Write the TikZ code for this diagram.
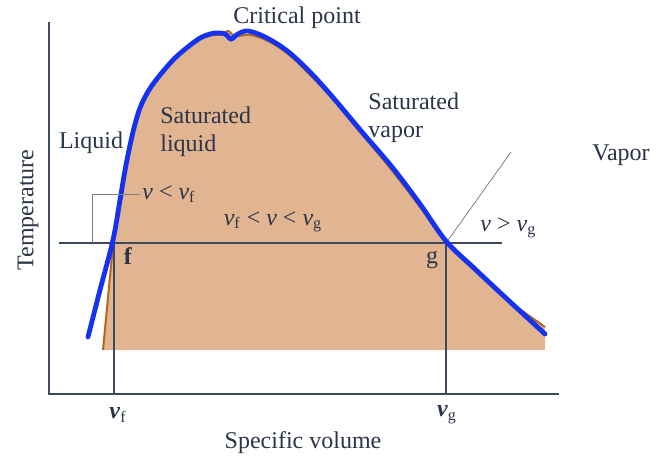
\documentclass[tikz,border=0pt]{standalone}
\usepackage{fontspec}
\setmainfont{Liberation Serif}
\usetikzlibrary{positioning,calc}
\definecolor{dome}{HTML}{E2B592}
\definecolor{domeline}{HTML}{B5651D}
\definecolor{satline}{HTML}{1432F0}
\definecolor{ink}{HTML}{2B3448}
\definecolor{axisc}{HTML}{3E4A5E}
\newcommand\sv{\textit{v}}

\begin{document}
\begin{tikzpicture}[x=0.5pt, y=-0.5pt,
  lbl/.style={font=\fontsize{12}{14}\selectfont, text=ink, inner sep=1pt},
  axisline/.style={axisc, line width=1pt},
  guide/.style={axisc, line width=0.7pt},
  leader/.style={gray, line width=0.4pt}]
\useasboundingbox (0,0) rectangle (656,459);
% two-phase region
\fill[dome] (103,350) -- plot[smooth, tension=0.55] coordinates {(113,245) (118,210) (124,172) (131,138) (138,113) (147,94) (158,78) (172,61) (188,48) (201,39) (213,35) (221,35) (228,31) (235,36) (250,35) (268,41) (288,54) (308,73) (330,96) (360,132) (390,168) (420,207) (446,243) (475,271) (505,298) (545,327)} -- (545,350) -- cycle;
\draw[domeline, line width=1pt] (103,350) -- plot[smooth, tension=0.55] coordinates {(113,245) (118,210) (124,172) (131,138) (138,113) (147,94) (158,78) (172,61) (188,48) (201,39) (213,35) (221,35) (228,31) (235,36) (250,35) (268,41) (288,54) (308,73) (330,96) (360,132) (390,168) (420,207) (446,243) (475,271) (505,298) (545,327)};
% points and guide lines
\coordinate (f) at (114,243);
\coordinate (g) at (446,243);
\coordinate (ytop) at (49,22);
\coordinate (xend) at (559,394);
\coordinate (pl) at (59,243);
\coordinate (pr) at (502,243);
\coordinate (brk) at (92,243);
\coordinate (gtip) at (511,152);
\draw[guide] (pl) -- (pr);
\draw[guide] (f) -- (f |- xend);
\draw[guide] (g) -- (g |- xend);
\draw[axisline] (ytop) |- (xend);
\draw[leader] (g) -- (gtip);
% saturation line
\draw[satline, line width=2.4pt, line cap=round] plot[smooth, tension=0.55] coordinates {(88,337) (100,290) (113,240) (120,200) (126,165) (133,132) (140,108) (149,90) (160,75) (174,59) (189,46) (202,37) (215,33) (225,34) (231,39) (238,34) (248,31) (265,37) (286,50) (307,69) (330,94) (362,132) (392,167) (420,204) (446,241) (475,269) (507,299) (545,334)};
% labels
\node[lbl] (crit) at (297,18) {Critical point};
\node[lbl, anchor=west, align=left] (satliq) at (158,132) {Saturated\\liquid};
\node[lbl] (liq) at (91,143) {Liquid};
\node[lbl, anchor=west, align=left] (satvap) at (366,118) {Saturated\\vapor};
\node[lbl] (vap) at (621,155) {Vapor};
\node[lbl, rotate=90] (temp) at (28,210) {Temperature};
\node[lbl, anchor=west] (vlf) at (140,194) {\sv{} < \sv\textsubscript{f}};
\node[lbl] (vmid) at (273,222) {\sv\textsubscript{f} < \sv{} < \sv\textsubscript{g}};
\node[lbl, anchor=west] (vgt) at (478,228) {\sv{} > \sv\textsubscript{g}};
\node[lbl] (flab) at (128,256) {\textbf{f}};
\node[lbl] (glab) at (432,260) {g};
\node[lbl] (vfax) at (118,415) {\textit{\textbf{v}}\textsubscript{f}};
\node[lbl] (vgax) at (447,415) {\textit{\textbf{v}}\textsubscript{g}};
\node[lbl] (xlab) at (303,443) {Specific volume};
\draw[leader] (brk) |- (vlf.west);
\end{tikzpicture}
\end{document}
